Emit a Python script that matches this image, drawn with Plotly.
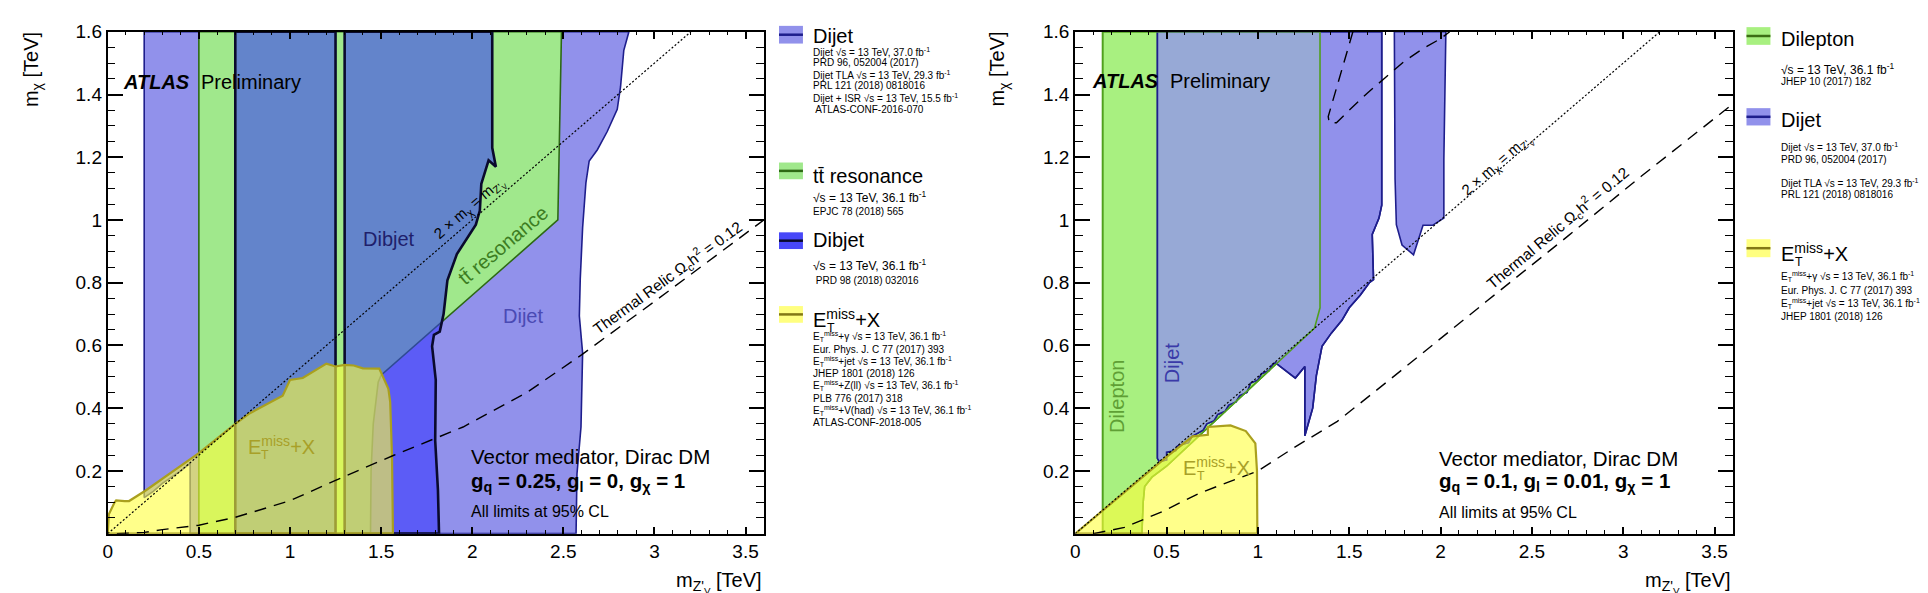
import plotly.graph_objects as go

W, H = 1928, 593
FONT = "Liberation Sans, Arial, Helvetica, sans-serif"

# ---------------- data: left panel (g_q=0.25, g_l=0, g_chi=1) ----------------
dijet_l_x = [0.2, 0.2, 0.25, 0.3, 0.35, 0.4, 0.452, 0.452, 2.57, 2.575, 2.597, 2.606, 2.588,
             2.593, 2.606, 2.624, 2.642, 2.687, 2.741, 2.796, 2.814, 2.832, 2.86]
dijet_l_y = [1.6, 0.115, 0.135, 0.16, 0.18, 0.2, 0.224, 0.0, 0.0, 0.19, 0.34, 0.576, 0.694,
             0.812, 0.976, 1.118, 1.188, 1.224, 1.282, 1.353, 1.424, 1.541, 1.6]

ttbar_l_x = [0.5, 0.5, 2.49, 2.47, 1.5, 1.484, 1.457, 1.445, 1.442]
ttbar_l_y = [0.0, 1.6, 1.6, 1.0, 0.505, 0.483, 0.35, 0.2, 0.0]

dibjet_a_x = [0.7, 0.7, 1.25, 1.25]
dibjet_a_y = [0.0, 1.6, 1.6, 0.0]
dibjet_b_x = [1.3, 1.3, 2.11, 2.11, 2.13, 2.09, 2.05, 2.042, 2.02, 1.96, 1.916, 1.864, 1.854,
              1.843, 1.822, 1.79, 1.78, 1.80, 1.797, 1.812, 1.818]
dibjet_b_y = [0.0, 1.6, 1.6, 1.23, 1.17, 1.19, 1.115, 1.03, 0.985, 0.933, 0.891, 0.808, 0.756,
              0.70, 0.644, 0.634, 0.597, 0.49, 0.296, 0.14, 0.0]

etmiss_l_x = [0.0, 0.0, 0.006, 0.037, 0.046, 0.093, 0.117, 0.204, 0.5, 0.7, 0.78, 0.96, 1.0,
              1.07, 1.15, 1.2, 1.25, 1.3, 1.35, 1.4, 1.49, 1.54, 1.55, 1.56, 1.565]
etmiss_l_y = [0.0, 0.0, 0.062, 0.099, 0.106, 0.104, 0.104, 0.136, 0.257, 0.35, 0.384, 0.44, 0.49,
              0.496, 0.523, 0.542, 0.533, 0.538, 0.536, 0.527, 0.526, 0.462, 0.42, 0.244, 0.0]

relic_l_x = [0.05, 0.2, 0.3, 0.5, 0.7, 1.0, 1.25, 1.57, 1.95, 2.3, 2.6, 3.0, 3.6]
relic_l_y = [0.0, 0.004, 0.013, 0.027, 0.052, 0.105, 0.17, 0.25, 0.34, 0.45, 0.57, 0.74, 1.0]

# ---------------- data: right panel (g_q=0.1, g_l=0.01, g_chi=1) ----------------
dilepton_x = [0.15, 0.15, 1.34, 1.34, 1.31, 0.642, 0.56, 0.5, 0.42, 0.38, 0.372, 0.365]
dilepton_y = [0.0, 1.6, 1.6, 0.72, 0.655, 0.29, 0.245, 0.215, 0.18, 0.15, 0.1, 0.0]

dijet_ra_x = [0.45, 0.45, 0.46, 0.5, 0.5, 0.55, 0.56, 0.62, 0.64, 0.7, 0.72, 0.76, 0.78, 0.82,
              0.84, 0.88, 0.9, 0.94, 0.96, 1.0, 1.02, 1.06, 1.08, 1.095, 1.205, 1.257, 1.257,
              1.30, 1.32, 1.351, 1.403, 1.46, 1.5, 1.56, 1.61, 1.633, 1.626, 1.663, 1.678, 1.678]
dijet_ra_y = [1.6, 0.24, 0.23, 0.235, 0.26, 0.265, 0.28, 0.29, 0.31, 0.33, 0.35, 0.36, 0.38, 0.39,
              0.41, 0.42, 0.44, 0.45, 0.48, 0.49, 0.51, 0.52, 0.54, 0.545, 0.496, 0.533, 0.312,
              0.40, 0.504, 0.597, 0.64, 0.68, 0.72, 0.76, 0.80, 0.81, 0.954, 1.006, 1.047, 1.6]
dijet_rb_x = [1.747, 1.751, 1.758, 1.789, 1.852, 1.904, 1.956, 2.018, 2.018, 2.029]
dijet_rb_y = [1.6, 1.13, 0.985, 0.92, 0.889, 0.983, 0.983, 1.006, 1.193, 1.6]

etmiss_r_x = [0.0, 0.3, 0.5, 0.642, 0.7, 0.726, 0.726, 0.85, 0.934, 0.986, 0.995, 0.997]
etmiss_r_y = [0.0, 0.148, 0.245, 0.31, 0.315, 0.315, 0.34, 0.345, 0.327, 0.288, 0.2, 0.0]

relic_r_x = [0.1, 0.27, 0.475, 0.684, 1.0, 1.2, 1.435, 1.72, 2.25, 2.7, 3.1, 3.6]
relic_r_y = [0.0, 0.02, 0.07, 0.13, 0.2, 0.275, 0.358, 0.49, 0.74, 0.95, 1.14, 1.37]
relic_r2_x = [1.52, 1.47, 1.42, 1.385, 1.39, 1.43, 1.5, 1.6, 1.7, 1.8, 1.9, 2.0, 2.05]
relic_r2_y = [1.6, 1.5, 1.4, 1.33, 1.31, 1.31, 1.35, 1.405, 1.455, 1.505, 1.545, 1.578, 1.6]

diag_x = [0.0, 3.2]
diag_y = [0.0, 1.6]

# ticks
xtick_vals = [0, 0.5, 1, 1.5, 2, 2.5, 3, 3.5]
xtick_text = ["0", "0.5", "1", "1.5", "2", "2.5", "3", "3.5"]
ytick_vals = [0.2, 0.4, 0.6, 0.8, 1.0, 1.2, 1.4, 1.6]
ytick_text = ["0.2", "0.4", "0.6", "0.8", "1", "1.2", "1.4", "1.6"]

# legend texts
ET = "E<sub>T</sub><sup>miss</sup>"
leg_l_dijet = ["Dijet √s = 13 TeV, 37.0 fb<sup>-1</sup>", "PRD 96, 052004 (2017)",
               "Dijet TLA √s = 13 TeV, 29.3 fb<sup>-1</sup>", "PRL 121 (2018) 0818016",
               "Dijet + ISR √s = 13 TeV, 15.5 fb<sup>-1</sup>", " ATLAS-CONF-2016-070"]
leg_l_ttbar = ["√s = 13 TeV, 36.1 fb<sup>-1</sup>", "EPJC 78 (2018) 565"]
leg_l_dibjet = ["√s = 13 TeV, 36.1 fb<sup>-1</sup>", " PRD 98 (2018) 032016"]
leg_l_et = [ET + "+γ √s = 13 TeV, 36.1 fb<sup>-1</sup>", "Eur. Phys. J. C 77 (2017) 393",
            ET + "+jet √s = 13 TeV, 36.1 fb<sup>-1</sup>", "JHEP 1801 (2018) 126",
            ET + "+Z(ll) √s = 13 TeV, 36.1 fb<sup>-1</sup>", "PLB 776 (2017) 318",
            ET + "+V(had) √s = 13 TeV, 36.1 fb<sup>-1</sup>", "ATLAS-CONF-2018-005"]
leg_r_dilep = ["√s = 13 TeV, 36.1 fb<sup>-1</sup>", "JHEP 10 (2017) 182"]
leg_r_dijet = ["Dijet √s = 13 TeV, 37.0 fb<sup>-1</sup>", "PRD 96, 052004 (2017)",
               "Dijet TLA √s = 13 TeV, 29.3 fb<sup>-1</sup>", "PRL 121 (2018) 0818016"]
leg_r_et = [ET + "+γ √s = 13 TeV, 36.1 fb<sup>-1</sup>", "Eur. Phys. J. C 77 (2017) 393",
            ET + "+jet √s = 13 TeV, 36.1 fb<sup>-1</sup>", "JHEP 1801 (2018) 126"]

# ---------------- styles ----------------
C_DIJET = "rgb(145,145,235)"
C_DIJET_LINE = "rgb(30,30,140)"
C_TTBAR = "rgb(160,232,140)"
C_TTBAR_LINE = "rgb(45,105,20)"
C_DIBJET = "rgba(50,50,255,0.55)"
C_DIBJET_LINE = "rgb(10,10,45)"
C_ET = "rgba(255,255,60,0.6)"
C_ET_LINE = "rgb(170,160,30)"
C_DILEP = "rgb(168,240,128)"
C_DILEP_LINE = "rgb(80,160,30)"
C_OVERLAP = "rgb(151,169,214)"

fig = go.Figure()


def region(xs, ys, fill, lc, lw, xa, ya, fillon=True):
    xs = list(xs) + [xs[0]]
    ys = list(ys) + [ys[0]]
    fig.add_trace(go.Scatter(
        x=xs, y=ys, mode="lines", fill="toself" if fillon else None,
        fillcolor=fill if fillon else None,
        line=dict(color=lc, width=lw), xaxis=xa, yaxis=ya,
        hoverinfo="skip", showlegend=False))


def curve(xs, ys, dash, lw, xa, ya):
    fig.add_trace(go.Scatter(x=xs, y=ys, mode="lines",
                             line=dict(color="black", width=lw, dash=dash),
                             xaxis=xa, yaxis=ya, hoverinfo="skip", showlegend=False))


# left panel
region(dijet_l_x, dijet_l_y, C_DIJET, C_DIJET_LINE, 1.6, "x", "y")
region(ttbar_l_x, ttbar_l_y, C_TTBAR, C_TTBAR_LINE, 1.6, "x", "y")
region(dibjet_a_x, dibjet_a_y, C_DIBJET, C_DIBJET_LINE, 2.6, "x", "y")
region(dibjet_b_x, dibjet_b_y, C_DIBJET, C_DIBJET_LINE, 2.6, "x", "y")
region(etmiss_l_x, etmiss_l_y, C_ET, C_ET_LINE, 2.2, "x", "y")
curve(diag_x, diag_y, "2px,2px", 1.2, "x", "y")
curve(relic_l_x, relic_l_y, "12px,8px", 1.4, "x", "y")

# right panel
region(dilepton_x, dilepton_y, C_DILEP, C_DILEP_LINE, 1.6, "x2", "y2")
region(dijet_ra_x, dijet_ra_y, C_DIJET, C_DIJET_LINE, 1.6, "x2", "y2")
region(dijet_rb_x, dijet_rb_y, C_DIJET, C_DIJET_LINE, 1.6, "x2", "y2")
# overlap of Dijet and Dilepton exclusion (built from both boundaries)
ov = [(x, y) for x, y in zip(dijet_ra_x, dijet_ra_y) if x <= 1.1]
ov += [(x, y) for x, y in zip(dilepton_x, dilepton_y) if x > 1.2][::-1][:-1]
ov += [(1.34, 1.6)]
fig.add_trace(go.Scatter(x=[p[0] for p in ov] + [ov[0][0]], y=[p[1] for p in ov] + [ov[0][1]],
                         mode="lines", fill="toself", fillcolor=C_OVERLAP,
                         line=dict(width=0, color=C_OVERLAP), xaxis="x2", yaxis="y2",
                         hoverinfo="skip", showlegend=False))
region(dijet_ra_x, dijet_ra_y, None, C_DIJET_LINE, 1.6, "x2", "y2", fillon=False)
region(dilepton_x, dilepton_y, None, C_DILEP_LINE, 1.6, "x2", "y2", fillon=False)
region(etmiss_r_x, etmiss_r_y, C_ET, C_ET_LINE, 2.2, "x2", "y2")
curve(diag_x, diag_y, "2px,2px", 1.2, "x2", "y2")
curve(relic_r_x, relic_r_y, "12px,8px", 1.4, "x2", "y2")
curve(relic_r2_x, relic_r2_y, "12px,8px", 1.4, "x2", "y2")

# ---------------- axes ----------------
XL = (95, 752.7)
XR = (1065, 1724.3)
YT, YB = 14, 524.5
PXU = (XL[1] - XL[0]) / 3.6   # px per TeV


def ax_x(dom):
    return dict(domain=[dom[0] / W, dom[1] / W], range=[0, 3.6], showgrid=False, zeroline=False,
                showline=True, linecolor="black", linewidth=2, mirror="ticks",
                ticks="inside", ticklen=7, tickwidth=1.5, tickcolor="black",
                tickvals=xtick_vals, ticktext=xtick_text,
                tickfont=dict(family=FONT, size=19, color="black"),
                minor=dict(tickvals=[i / 10 for i in range(37) if i % 5], ticks="inside",
                           ticklen=3.5, tickwidth=1.2, tickcolor="black"),
                fixedrange=True)


def ax_y(xa):
    return dict(domain=[1 - YB / H, 1 - YT / H], range=[0, 1.6], anchor=xa, showgrid=False,
                zeroline=False, showline=True, linecolor="black", linewidth=2, mirror="ticks",
                ticks="inside", ticklen=15, tickwidth=1.5, tickcolor="black",
                tickvals=ytick_vals, ticktext=ytick_text,
                tickfont=dict(family=FONT, size=19, color="black"),
                minor=dict(tickvals=[i / 20 for i in range(33) if i % 4], ticks="inside",
                           ticklen=7.5, tickwidth=1.2, tickcolor="black"),
                fixedrange=True)


fig.update_layout(
    width=W, height=H, autosize=False, margin=dict(l=0, r=0, t=0, b=0),
    paper_bgcolor="white", plot_bgcolor="white", showlegend=False,
    xaxis=dict(ax_x(XL), anchor="y"), yaxis=ax_y("x"),
    xaxis2=dict(ax_x(XR), anchor="y2"), yaxis2=ax_y("x2"),
)

ann = []


def txt(x, y, s, size, xa="x", ya="y", color="black", xanchor="center", yanchor="middle",
        angle=0):
    ann.append(dict(x=x, y=y, xref=xa, yref=ya, text=s, showarrow=False, textangle=angle,
                    xanchor=xanchor, yanchor=yanchor,
                    font=dict(family=FONT, size=size, color=color)))


def ptxt(px, py, s, size, color="black", xanchor="left", yanchor="middle", angle=0):
    txt(px / W, 1 - py / H, s, size, "paper", "paper", color, xanchor, yanchor, angle)


def et_label(x0, y0, size, xa, ya, color):
    """E_T^miss+X with stacked sub/superscript (left edge x0 in data units)."""
    txt(x0, y0, "E<sup>miss</sup>+X", size, xa, ya, color, xanchor="left")
    txt(x0 + 0.70 * size / PXU, y0 - 0.45 * size / 319, "T", 0.62 * size, xa, ya, color,
        xanchor="left")


def et_legend(px, py, size):
    ptxt(px, py, "E<sup>miss</sup>+X", size)
    ptxt(px + 0.70 * size, py + 0.45 * size, "T", 0.62 * size)


# in-plot labels, left
txt(0.07, 1.44, "<b><i>ATLAS</i></b>", 20, xanchor="left")
txt(0.50, 1.44, "Preliminary", 20, xanchor="left")
txt(1.545, 0.94, "Dibjet", 20, color="#1f1f6b")
txt(2.17, 0.92, "tt\u0304 resonance", 20, color="#3c7d22", angle=-40)
txt(1.99, 1.035, "2 × m<sub>χ</sub> = m<sub>Z'<sub>V</sub></sub>", 15, angle=-41)
txt(2.28, 0.695, "Dijet", 20, color="#4a4ab4")
et_label(0.756, 0.28, 20, "x", "y", "#a8a028")
txt(3.07, 0.815, "Thermal Relic Ω<sub>c</sub>h<sup>2</sup> = 0.12", 15.5, angle=-36)
txt(1.98, 0.245, "Vector mediator, Dirac DM", 20.5, xanchor="left")
txt(1.98, 0.166, "<b>g<sub>q</sub> = 0.25, g<sub>l</sub> = 0, g<sub>χ</sub> = 1</b>", 20.5,
    xanchor="left")
txt(1.98, 0.071, "All limits at 95% CL", 16, xanchor="left")

# in-plot labels, right
txt(0.079, 1.442, "<b><i>ATLAS</i></b>", 20, "x2", "y2", xanchor="left")
txt(0.507, 1.442, "Preliminary", 20, "x2", "y2", xanchor="left")
txt(0.229, 0.436, "Dilepton", 20, "x2", "y2", color="#5f9f35", angle=-90)
txt(0.527, 0.545, "Dijet", 20, "x2", "y2", color="#3a3aa8", angle=-90)
et_label(0.58, 0.213, 20, "x2", "y2", "#a8a028")
txt(2.31, 1.175, "2 × m<sub>χ</sub> = m<sub>Z'<sub>V</sub></sub>", 15, "x2", "y2", angle=-41)
txt(2.64, 0.975, "Thermal Relic Ω<sub>c</sub>h<sup>2</sup> = 0.12", 15.5, "x2", "y2", angle=-40)
txt(1.978, 0.241, "Vector mediator, Dirac DM", 20.5, "x2", "y2", xanchor="left")
txt(1.978, 0.165, "<b>g<sub>q</sub> = 0.1, g<sub>l</sub> = 0.01, g<sub>χ</sub> = 1</b>", 20.5,
    "x2", "y2", xanchor="left")
txt(1.978, 0.068, "All limits at 95% CL", 16, "x2", "y2", xanchor="left")

# axis titles
for xr, ycx in ((XL, 19), (XR, 988)):
    ptxt(ycx, 52, "m<sub>χ</sub> [TeV]", 20, xanchor="center", angle=-90)
    ptxt(xr[1], 574, "m<sub>Z'<sub>V</sub></sub> [TeV]", 20, xanchor="right")

# ---------------- legends ----------------
shapes = []


def patch(x0, y0, y1, fill, lc):
    shapes.append(dict(type="rect", xref="paper", yref="paper", x0=x0 / W, x1=(x0 + 24) / W,
                       y0=1 - y1 / H, y1=1 - y0 / H, fillcolor=fill, line=dict(width=0),
                       layer="above"))
    ym = 1 - (y0 + y1) / 2 / H
    shapes.append(dict(type="line", xref="paper", yref="paper", x0=x0 / W, x1=(x0 + 24) / W,
                       y0=ym, y1=ym, line=dict(color=lc, width=2.5), layer="above"))


SMALL, MID = 10, 12

# left legend
LX, LT = 768, 800
patch(LX, 8, 26, C_DIJET, C_DIJET_LINE)
ptxt(LT, 18, "Dijet", 20)
for yy, s in zip([34.3, 45.7, 57.7, 69.0, 81.7, 93.3], leg_l_dijet):
    ptxt(LT, yy, s, SMALL)
patch(LX, 147, 164, C_TTBAR, C_TTBAR_LINE)
ptxt(LT, 161, "tt\u0304 resonance", 20)
ptxt(LT, 181.7, leg_l_ttbar[0], MID)
ptxt(LT, 196.7, leg_l_ttbar[1], SMALL)
patch(LX, 218, 235, "rgb(72,72,248)", "rgb(10,10,45)")
ptxt(LT, 226, "Dibjet", 20)
ptxt(LT, 251.7, leg_l_dibjet[0], MID)
ptxt(LT, 266.7, leg_l_dibjet[1], SMALL)
patch(LX, 293, 310, "rgb(255,255,128)", "rgb(130,120,20)")
et_legend(LT, 306, 20)
for yy, s in zip([324, 336.7, 349.3, 361.7, 374, 386.7, 399, 411.7], leg_l_et):
    ptxt(LT, yy, s, SMALL)

# right legend
RX, RT = 1738, 1770.7
patch(RX, 9.3, 27.3, C_DILEP, "rgb(60,110,20)")
ptxt(RT, 21, "Dilepton", 20)
ptxt(RT, 51.7, leg_r_dilep[0], MID)
ptxt(RT, 65, leg_r_dilep[1], SMALL)
patch(RX, 91.7, 109.3, C_DIJET, C_DIJET_LINE)
ptxt(RT, 103.5, "Dijet", 20)
for yy, s in zip([131.7, 144.3, 168.3, 180.0], leg_r_dijet):
    ptxt(RT, yy, s, SMALL)
patch(RX, 225, 243.3, "rgb(255,255,128)", "rgb(130,120,20)")
et_legend(RT, 239, 20)
for yy, s in zip([263.3, 276.7, 290, 303.3], leg_r_et):
    ptxt(RT, yy, s, SMALL)

fig.update_layout(annotations=ann, shapes=shapes)
fig.write_html("out.html")
